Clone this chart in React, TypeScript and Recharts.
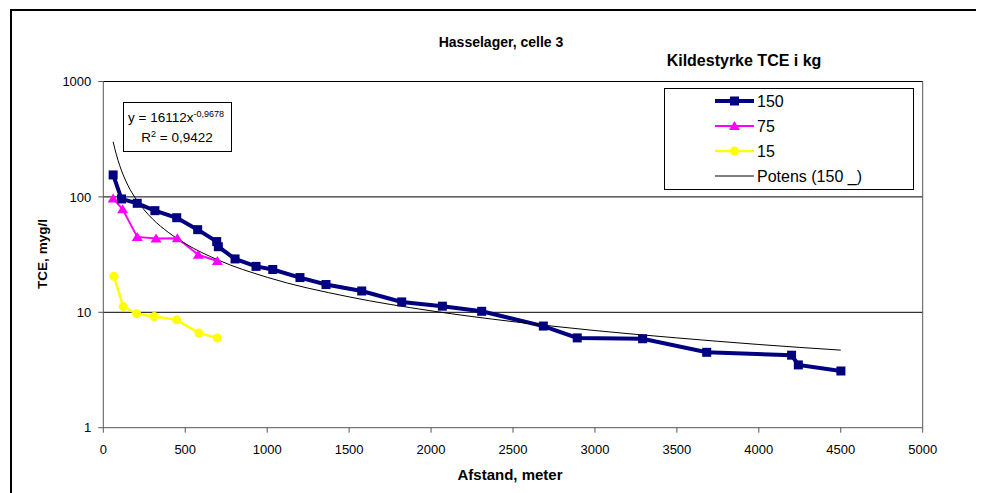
import { LineChart, Line, XAxis, YAxis, ReferenceLine, Legend } from 'recharts';

// Kildestyrke 150 kg
const x150 = [60, 111, 207, 315, 448, 576, 692, 702, 804, 932, 1034, 1200, 1359, 1577, 1821, 2069, 2309, 2685, 2892, 3291, 3682, 4200, 4241, 4501];
const y150 = [155, 96, 88, 76, 66, 52, 41, 37, 29, 25, 23.5, 20, 17.4, 15.3, 12.3, 11.3, 10.2, 7.6, 6.0, 5.9, 4.5, 4.25, 3.5, 3.1];

// Kildestyrke 75 kg
const x75 = [60, 118, 207, 322, 452, 580, 696];
const y75 = [97, 78, 45, 43.5, 43.8, 31.5, 27.8];

// Kildestyrke 15 kg
const x15 = [65, 122, 204, 311, 448, 584, 696];
const y15 = [20.5, 11.2, 9.7, 9.2, 8.6, 6.6, 6.0];

// Potens (150) trend, y = 16112x^-0,9678
const xTrend = [60, 70, 80, 100, 120, 150, 200, 250, 300, 400, 500, 700, 1000, 1500, 2000, 2500, 3000, 3500, 4000, 4500];
const yTrend = [300, 262, 232, 187, 157, 126, 95.6, 77, 64.5, 48.9, 39.4, 28.4, 20.1, 13.6, 10.3, 8.3, 6.95, 6.0, 5.26, 4.7];

const xTicks = [0, 500, 1000, 1500, 2000, 2500, 3000, 3500, 4000, 4500, 5000];
const yTicks = [1, 10, 100, 1000];

const pts = (xs: number[], ys: number[]) => xs.map((x, i) => ({ x, y: ys[i] }));

const data150 = pts(x150, y150);
const data75 = pts(x75, y75);
const data15 = pts(x15, y15);
const dataTrend = pts(xTrend, yTrend);

const NAVY = '#000080';
const MAGENTA = '#FF00FF';
const YELLOW = '#FFFF00';
const FONT = '"Liberation Sans", Arial, sans-serif';

const Square = (p: any) => (
  <rect key={p.key} x={p.cx - 4.5} y={p.cy - 4.5} width={9} height={9} fill={NAVY} />
);
const Triangle = (p: any) => (
  <polygon key={p.key} points={`${p.cx},${p.cy - 5} ${p.cx + 5.5},${p.cy + 4} ${p.cx - 5.5},${p.cy + 4}`} fill={MAGENTA} />
);
const Circle = (p: any) => <circle key={p.key} cx={p.cx} cy={p.cy} r={4.5} fill={YELLOW} />;

const legendItems = [
  { name: '150', color: NAVY, width: 4, marker: 'square' },
  { name: '75', color: MAGENTA, width: 2, marker: 'triangle' },
  { name: '15', color: YELLOW, width: 2.5, marker: 'circle' },
  { name: 'Potens (150 _)', color: '#000', width: 1, marker: 'none' },
];

function LegendBox() {
  return (
    <svg width={250} height={102} style={{ display: 'block' }}>
      <rect x={0.5} y={0.5} width={249} height={101} fill="#fff" stroke="#000" />
      {legendItems.map((it, i) => {
        const cy = 13 + i * 25;
        return (
          <g key={it.name}>
            <line x1={51} x2={90} y1={cy} y2={cy} stroke={it.color} strokeWidth={it.width} />
            {it.marker === 'square' && <rect x={66} y={cy - 4.5} width={9} height={9} fill={it.color} />}
            {it.marker === 'triangle' && (
              <polygon points={`70.5,${cy - 5} 76,${cy + 4} 65,${cy + 4}`} fill={it.color} />
            )}
            {it.marker === 'circle' && <circle cx={70.5} cy={cy} r={4.5} fill={it.color} />}
            <text x={93} y={cy + 5.5} fontSize={16} fontFamily={FONT} fill="#000">
              {it.name}
            </text>
          </g>
        );
      })}
    </svg>
  );
}

export default function App() {
  return (
    <div style={{ position: 'relative', width: 976, height: 485, background: '#fff' }}>
      <LineChart
        width={976}
        height={485}
        margin={{ top: 73.5, right: 61.3, bottom: 35.3, left: 35.3 }}
      >
        <XAxis
          type="number"
          dataKey="x"
          domain={[0, 5000]}
          ticks={xTicks}
          interval={0}
          height={30}
          stroke="#555"
          tickSize={5}
          tickMargin={12}
          tick={{ fill: '#000', fontSize: 13, fontFamily: FONT }}
          allowDataOverflow
        />
        <YAxis
          type="number"
          dataKey="y"
          scale="log"
          domain={[1, 1000]}
          ticks={yTicks}
          interval={0}
          width={60}
          stroke="#555"
          tickSize={5}
          tickMargin={7}
          tick={{ fill: '#000', fontSize: 13, fontFamily: FONT }}
          allowDataOverflow
        />
        <ReferenceLine y={10} stroke="#000" strokeWidth={1} />
        <ReferenceLine y={100} stroke="#000" strokeWidth={1} />
        <ReferenceLine y={1000} stroke="#000" strokeWidth={1} />
        <ReferenceLine x={5000} stroke="#555" strokeWidth={1} />
        <Line data={data15} dataKey="y" type="linear" stroke={YELLOW} strokeWidth={2.5} dot={Circle} isAnimationActive={false} />
        <Line data={data75} dataKey="y" type="linear" stroke={MAGENTA} strokeWidth={2} dot={Triangle} isAnimationActive={false} />
        <Line data={data150} dataKey="y" type="linear" stroke={NAVY} strokeWidth={4} dot={Square} isAnimationActive={false} />
        <Line data={dataTrend} dataKey="y" type="monotone" stroke="#000" strokeWidth={1} dot={false} isAnimationActive={false} />
        <Legend
          layout="vertical"
          align="center"
          verticalAlign="middle"
          content={() => <LegendBox />}
          wrapperStyle={{ left: 656, top: 80, width: 250, height: 102 }}
        />
      </LineChart>
      <svg
        width={976}
        height={485}
        style={{ position: 'absolute', left: 0, top: 0, pointerEvents: 'none', overflow: 'hidden' }}
        fontFamily={FONT}
      >
        <rect x={3} y={2} width={966} height={600} fill="none" stroke="#000" strokeWidth={2} />
        <text x={493} y={39} textAnchor="middle" fontSize={14} fontWeight="bold">
          Hasselager, celle 3
        </text>
        <text x={736} y={58} textAnchor="middle" fontSize={16} fontWeight="bold">
          Kildestyrke TCE i kg
        </text>
        <rect x={115.5} y={94.5} width={108} height={49} fill="#fff" stroke="#000" />
        <text x={168} y={114} textAnchor="middle" fontSize={13.5}>
          y = 16112x<tspan fontSize={9} dy={-5}>-0,9678</tspan>
        </text>
        <text x={169} y={134} textAnchor="middle" fontSize={13.5}>
          R<tspan fontSize={9} dy={-5}>2</tspan>
          <tspan dy={5}> = 0,9422</tspan>
        </text>
        <text x={502} y={472} textAnchor="middle" fontSize={15} fontWeight="bold">
          Afstand, meter
        </text>
        <text
          x={33.5}
          y={246}
          textAnchor="middle"
          fontSize={13.5}
          fontWeight="bold"
          transform="rotate(-90 33.5 246)"
          dy={5}
        >
          TCE, myg/l
        </text>
      </svg>
    </div>
  );
}
